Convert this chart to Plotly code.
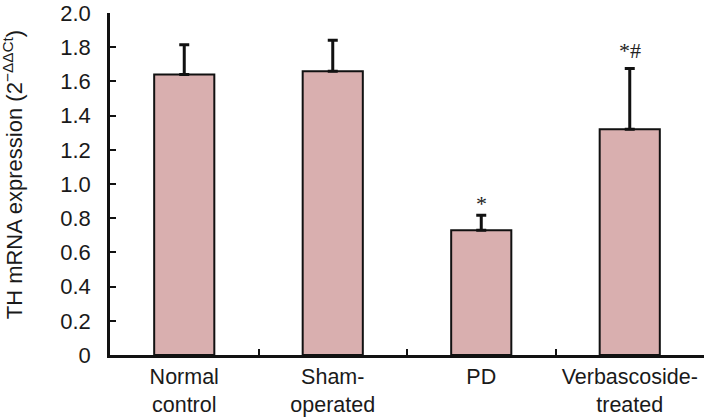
import plotly.graph_objects as go

categories = ["Normal<br>control", "Sham-<br>operated", "PD", "Verbascoside-<br>treated"]
means = [1.64, 1.66, 0.73, 1.32]
sd_upper = [0.175, 0.18, 0.087, 0.355]
marks = ["", "", "*", "*#"]
y_ticks = [0, 0.2, 0.4, 0.6, 0.8, 1.0, 1.2, 1.4, 1.6, 1.8, 2.0]
y_tick_text = ["0", "0.2", "0.4", "0.6", "0.8", "1.0", "1.2", "1.4", "1.6", "1.8", "2.0"]

mark_shift = {"*": -3, "*#": 4}

fig = go.Figure()
fig.add_trace(go.Bar(
    x=categories, y=means, width=0.405,
    marker=dict(color="#D9AFAF", line=dict(color="#111111", width=2)),
    error_y=dict(type="data", array=sd_upper, arrayminus=[0] * len(means),
                 symmetric=False, color="#111111", thickness=3, width=5),
    showlegend=False,
))

for c, m, e, t in zip(categories, means, sd_upper, marks):
    if t:
        fig.add_annotation(x=c, y=m + e, text=t, showarrow=False, yshift=mark_shift[t],
                           yanchor="bottom",
                           font=dict(family="Liberation Serif", size=22, color="#222222"))

fig.add_annotation(xref="paper", yref="paper", x=-0.163, y=0.526,
                   text="TH mRNA expression (2<sup>\u2212\u0394\u0394Ct</sup>)",
                   textangle=-90, showarrow=False, xanchor="center", yanchor="middle",
                   font=dict(family="Liberation Sans", size=22, color="#1a1a1a"))

fig.update_layout(
    width=713, height=418,
    margin=dict(l=110, r=9, t=13, b=63),
    plot_bgcolor="white", paper_bgcolor="white",
    font=dict(family="Liberation Sans", size=22, color="#1a1a1a"),
    bargap=0.595,
)
fig.update_xaxes(
    type="category", tickson="boundaries", ticks="inside", ticklen=6,
    tickwidth=2, tickcolor="#111111", tickangle=0, automargin=False,
    showline=True, linecolor="#111111", linewidth=2.5,
    showgrid=False, tickfont=dict(size=21.5), ticklabelstandoff=0,
)
fig.update_yaxes(
    range=[0, 2.0], tickvals=y_ticks, ticktext=y_tick_text, automargin=False,
    ticks="inside", ticklen=6, tickwidth=2, tickcolor="#111111",
    showline=True, linecolor="#111111", linewidth=2.5,
    showgrid=False, zeroline=False, tickfont=dict(size=22),
    ticklabelstandoff=12,
)

fig.write_html("out.html", config={"displayModeBar": False},
               post_script="document.body.style.margin='0px';")
